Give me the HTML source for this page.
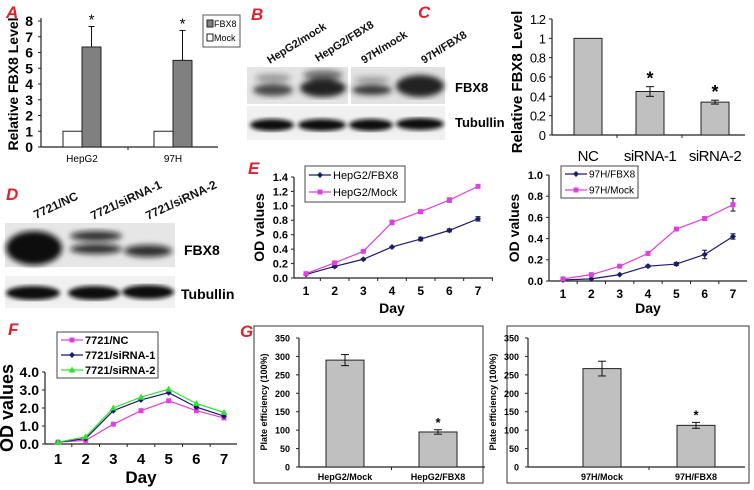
<!DOCTYPE html>
<html><head><meta charset="utf-8"><style>
body{margin:0;background:#fff;}
svg{display:block;font-family:"Liberation Sans",Arial,sans-serif;}
.pl{fill:#e0202a;font-weight:bold;font-style:italic;font-size:17px;}
</style></head><body>
<svg id="fig" width="754" height="490" viewBox="0 0 754 490">
<defs>
<filter id="blur3"><feGaussianBlur stdDeviation="3"/></filter>
<filter id="blur2"><feGaussianBlur stdDeviation="2"/></filter>
</defs>
<text class="pl" x="6" y="18">A</text>
<text class="pl" x="251" y="20">B</text>
<text class="pl" x="418" y="18">C</text>
<text class="pl" x="6" y="200">D</text>
<text class="pl" x="248" y="174">E</text>
<text class="pl" x="8" y="335">F</text>
<text class="pl" x="240" y="337">G</text>

<g>
<rect x="247" y="67" width="101" height="37" fill="#e4e4e4"/>
<rect x="351" y="67" width="94" height="37" fill="#e2e2e2"/>
<rect x="247" y="106" width="198" height="34" fill="#f0f0f0"/>
<g filter="url(#blur3)" fill="#222">
<ellipse cx="273" cy="90" rx="20" ry="6" opacity="0.8"/>
<ellipse cx="273" cy="78" rx="18" ry="4" opacity="0.4"/>
<ellipse cx="323" cy="88" rx="23" ry="9"/>
<ellipse cx="323" cy="75" rx="20" ry="5" opacity="0.6"/>
<ellipse cx="372" cy="90" rx="20" ry="5" opacity="0.9"/>
<ellipse cx="372" cy="80" rx="18" ry="3" opacity="0.4"/>
<ellipse cx="420" cy="86" rx="24" ry="11"/>
</g>
<g filter="url(#blur2)" fill="#111">
<ellipse cx="272" cy="125" rx="22" ry="6"/>
<ellipse cx="322" cy="125" rx="24" ry="6"/>
<ellipse cx="371" cy="125" rx="22" ry="6"/>
<ellipse cx="420" cy="124" rx="24" ry="6"/>
</g>
<g font-size="11" font-weight="bold" fill="#111">
<text transform="translate(270,64) rotate(-32)">HepG2/mock</text>
<text transform="translate(318,62) rotate(-32)">HepG2/FBX8</text>
<text transform="translate(364,64) rotate(-32)">97H/mock</text>
<text transform="translate(424,64) rotate(-32)">97H/FBX8</text>
</g>
<text x="455" y="92" font-size="13" font-weight="bold">FBX8</text>
<text x="455" y="127" font-size="13" font-weight="bold">Tubullin</text>
</g>

<g>
<rect x="5" y="223" width="170" height="44" fill="#e6e6e6"/>
<rect x="5" y="276" width="170" height="32" fill="#f0f0f0"/>
<g filter="url(#blur3)" fill="#111">
<ellipse cx="34" cy="248" rx="28" ry="17"/>
<ellipse cx="96" cy="236" rx="26" ry="5" opacity="0.85"/>
<ellipse cx="96" cy="249" rx="26" ry="5" opacity="0.85"/>
<ellipse cx="148" cy="251" rx="24" ry="6" opacity="0.85"/>
</g>
<g filter="url(#blur2)" fill="#111">
<ellipse cx="33" cy="293" rx="27" ry="7"/>
<ellipse cx="94" cy="293" rx="26" ry="7"/>
<ellipse cx="148" cy="292" rx="26" ry="7"/>
</g>
<g font-size="12" font-weight="bold" fill="#111">
<text transform="translate(36,219) rotate(-25)">7721/NC</text>
<text transform="translate(93,220) rotate(-25)">7721/siRNA-1</text>
<text transform="translate(148,220) rotate(-25)">7721/siRNA-2</text>
</g>
<text x="184" y="255" font-size="14" font-weight="bold">FBX8</text>
<text x="181" y="299" font-size="14" font-weight="bold">Tubullin</text>
</g>

<g id="charts"></g>
</svg>
<script>
// Panel A
const aCats=["HepG2","97H"];
const aMock=[1,1];
const aFbx=[6.35,5.5];
const aFbxErr=[1.3,1.9];
const aTicks=[0,1,2,3,4,5,6,7,8];
// Panel C
const cCats=["NC","siRNA-1","siRNA-2"];
const cVals=[1,0.45,0.34];
const cErr=[0,0.05,0.02];
const cTicks=["0","0.2","0.4","0.6","0.8","1","1.2"];
// Panel E
const days=[1,2,3,4,5,6,7];
const eHepFbx=[0.05,0.16,0.26,0.43,0.54,0.66,0.82];
const eHepMock=[0.06,0.21,0.37,0.77,0.92,1.08,1.27];
const eHepTicks=["0.0","0.2","0.4","0.6","0.8","1.0","1.2","1.4"];
const e97Fbx=[0.01,0.02,0.06,0.14,0.16,0.25,0.42];
const e97Mock=[0.02,0.06,0.14,0.26,0.49,0.59,0.72];
const e97Ticks=["0.0","0.2","0.4","0.6","0.8","1.0"];
// Panel F
const fNC=[0.1,0.2,1.1,1.85,2.4,1.85,1.45];
const fSi1=[0.1,0.3,1.85,2.45,2.85,2.05,1.55];
const fSi2=[0.1,0.4,2.0,2.6,3.05,2.25,1.75];
const fTicks=["0.0","1.0","2.0","3.0","4.0"];
// Panel G
const g1Cats=["HepG2/Mock","HepG2/FBX8"];
const g1Vals=[290,95];
const g1Err=[15,6];
const g2Cats=["97H/Mock","97H/FBX8"];
const g2Vals=[267,113];
const g2Err=[20,8];
const gTicks=[0,50,100,150,200,250,300,350];

const NS="http://www.w3.org/2000/svg";
const root=document.getElementById('charts');
function el(tag,attrs,parent,txt){const e=document.createElementNS(NS,tag);for(const k in attrs)e.setAttribute(k,attrs[k]);if(txt!==undefined)e.textContent=txt;(parent||root).appendChild(e);return e;}
function lin(d0,d1,r0,r1){return v=>r0+(v-d0)/(d1-d0)*(r1-r0);}
function axes(g,x0,x1,y0,y1){
  el('line',{x1:x0,y1:y0,x2:x0,y2:y1,stroke:'#222','stroke-width':1.2},g);
  el('line',{x1:x0,y1:y0,x2:x1,y2:y0,stroke:'#222','stroke-width':1.2},g);
}
function errbar(g,x,yTop,yBot,w){
  el('line',{x1:x,y1:yTop,x2:x,y2:yBot,stroke:'#111','stroke-width':1},g);
  el('line',{x1:x-w,y1:yTop,x2:x+w,y2:yTop,stroke:'#111','stroke-width':1},g);
  el('line',{x1:x-w,y1:yBot,x2:x+w,y2:yBot,stroke:'#111','stroke-width':1},g);
}

// ---- Panel A
(function(){
  const g=el('g',{});
  
  
  const y=lin(0,8,147,21), x0=41,x1=218;
  axes(g,x0,x1,147,18);
  aTicks.forEach(t=>{el('line',{x1:x0-3,x2:x0,y1:y(t),y2:y(t),stroke:'#222'},g);
    const tt=el('text',{x:x0-8,y:y(t)+5,'text-anchor':'end','font-size':14,'font-weight':'bold'},g,t);
    });
  const centers=[82,173];
  el('line',{x1:128,x2:128,y1:147,y2:150,stroke:'#222'},g);
  aCats.forEach((c,i)=>{
    const cx=centers[i];
    const m=el('rect',{x:cx-19,y:y(aMock[i]),width:19,height:147-y(aMock[i]),fill:'#fff',stroke:'#222'},g);
    
    errbar(g,cx+9.5,y(aFbx[i]+aFbxErr[i]),y(aFbx[i]),3);
    const f=el('rect',{x:cx,y:y(aFbx[i]),width:19,height:147-y(aFbx[i]),fill:'#808080',stroke:'#222'},g);
    
    el('text',{x:cx+9.5,y:y(aFbx[i]+aFbxErr[i])-2,'text-anchor':'middle','font-size':15},g,'*');
    const l=el('text',{x:cx,y:162,'text-anchor':'middle','font-size':10},g,c);
    
  });
  const yt=el('text',{transform:'translate(18,84) rotate(-90)','text-anchor':'middle','font-size':14,'font-weight':'bold'},g,'Relative FBX8 Level');
  
  const lg=el('g',{},g);
  
  el('rect',{x:203,y:15,width:37,height:32,fill:'#fff',stroke:'#555'},lg);
  el('rect',{x:207,y:20,width:6,height:7,fill:'#808080',stroke:'#222'},lg);
  el('text',{x:214,y:27,'font-size':9},lg,'FBX8');
  el('rect',{x:207,y:34,width:6,height:7,fill:'#fff',stroke:'#222'},lg);
  el('text',{x:214,y:41,'font-size':9},lg,'Mock');
})();

// ---- Panel C
(function(){
  const g=el('g',{});
  
  
  const y=lin(0,1.2,135,19), x0=552,x1=745;
  axes(g,x0,x1,135,19);
  cTicks.forEach(t=>{const v=parseFloat(t);el('line',{x1:x0-3,x2:x0,y1:y(v),y2:y(v),stroke:'#222'},g);
    const tt=el('text',{x:x0-7,y:y(v)+5,'text-anchor':'end','font-size':13,'letter-spacing':'-1'},g,t);
    });
  [617,682].forEach(t=>el('line',{x1:t,x2:t,y1:135,y2:138,stroke:'#222'},g));
  const centers=[588,650,715];
  cCats.forEach((c,i)=>{
    const cx=centers[i];
    const b=el('rect',{x:cx-14,y:y(cVals[i]),width:28,height:135-y(cVals[i]),fill:'#c0c0c0',stroke:'#222'},g);
    
    if(cErr[i]>0){errbar(g,cx,y(cVals[i]+cErr[i]),y(cVals[i]-cErr[i]),4);
      el('text',{x:cx,y:y(cVals[i]+cErr[i])-2,'text-anchor':'middle','font-size':18,'font-weight':'bold'},g,'*');}
    const l=el('text',{x:cx,y:161,'text-anchor':'middle','font-size':15,'letter-spacing':'-0.5'},g,c);
    
  });
  const yt=el('text',{transform:'translate(522,82) rotate(-90)','text-anchor':'middle','font-size':15,'font-weight':'bold'},g,'Relative FBX8 Level');
  
})();

// ---- line charts
function lineChart(o){
  const g=el('g',{});
  
  
  const y=lin(0,o.ymax,o.y0,o.y1), x=lin(1,7,o.d1,o.d7);
  axes(g,o.x0,o.xend,o.y0,o.y1);
  o.ticks.forEach(t=>{const v=parseFloat(t);el('line',{x1:o.x0-3,x2:o.x0,y1:y(v),y2:y(v),stroke:'#222'},g);
    const tt=el('text',{x:o.x0-6,y:y(v)+o.fs*0.35,'text-anchor':'end','font-size':o.fs,'font-weight':'bold'},g,t);
    });
  days.forEach(d=>{const tx=x(d)+(x(2)-x(1))/2; if(o.xend>tx)el('line',{x1:tx,x2:tx,y1:o.y0,y2:o.y0+3,stroke:'#222'},g);
    const tt=el('text',{x:x(d),y:o.y0+o.fs+6,'text-anchor':'middle','font-size':o.fs+1,'font-weight':'bold'},g,d);
    });
  const xt=el('text',{x:(o.d1+o.d7)/2,y:o.dayY,'text-anchor':'middle','font-size':o.fs+3,'font-weight':'bold'},g,'Day');
  
  const yt=el('text',{transform:`translate(${o.ytX},${(o.y0+o.y1)/2}) rotate(-90)`,'text-anchor':'middle','font-size':o.yfs||o.fs+3,'font-weight':'bold'},g,'OD values');
  
  o.series.forEach(s=>{
    const pts=s.vals.map((v,i)=>x(days[i])+','+y(v)).join(' ');
    const pl=el('polyline',{points:pts,fill:'none',stroke:s.color,'stroke-width':1.2},g);
    
    s.vals.forEach((v,i)=>{
      if(s.err){errbar(g,x(days[i]),y(v+s.err[i]),y(v-s.err[i]),2.5);}
      let m;
      if(s.mk==='sq')m=el('rect',{x:x(days[i])-2.5,y:y(v)-2.5,width:5,height:5,fill:s.color},g);
      else if(s.mk==='tri')m=el('polygon',{points:`${x(days[i])},${y(v)-3.5} ${x(days[i])-3.5},${y(v)+2.5} ${x(days[i])+3.5},${y(v)+2.5}`,fill:s.color},g);
      else m=el('polygon',{points:`${x(days[i])},${y(v)-3} ${x(days[i])+3},${y(v)} ${x(days[i])},${y(v)+3} ${x(days[i])-3},${y(v)}`,fill:s.color},g);
      
    });
  });
  const lg=el('g',{},g);
  
  const L=o.legend;
  el('rect',{x:L.x,y:L.y,width:L.w,height:L.h,fill:'#fff',stroke:'#444'},lg);
  o.series.forEach((s,i)=>{
    const ly=L.y+L.pad+i*L.step;
    el('line',{x1:L.x+4,x2:L.x+26,y1:ly,y2:ly,stroke:s.color,'stroke-width':1.2},lg);
    if(s.mk==='sq')el('rect',{x:L.x+12.5,y:ly-2.5,width:5,height:5,fill:s.color},lg);
    else if(s.mk==='tri')el('polygon',{points:`${L.x+15},${ly-3.5} ${L.x+11.5},${ly+2.5} ${L.x+18.5},${ly+2.5}`,fill:s.color},lg);
    else el('polygon',{points:`${L.x+15},${ly-3} ${L.x+18},${ly} ${L.x+15},${ly+3} ${L.x+12},${ly}`,fill:s.color},lg);
    el('text',{x:L.x+28,y:ly+L.fs*0.35,'font-size':L.fs,'font-weight':L.bold?'bold':'normal'},lg,s.label);
  });
}
const NAVY='#1a1a6e', MAG='#e040e0', GRN='#30e030';
lineChart({name:'chart-e-hepg2',x0:294,xend:493,y0:278,y1:177,ymax:1.4,d1:306,d7:478,ticks:eHepTicks,fs:11,dayY:313,ytX:264,
  legend:{x:305,y:166,w:100,h:36,pad:9,step:17,fs:11,bold:false},
  series:[{key:'hepg2-fbx8',label:'HepG2/FBX8',vals:eHepFbx,color:NAVY,mk:'dia',err:[0.005,0.015,0.01,0.01,0.025,0.02,0.03]},
          {key:'hepg2-mock',label:'HepG2/Mock',vals:eHepMock,color:MAG,mk:'sq',err:[0.005,0.01,0.01,0.03,0.02,0.03,0.02]}]});
lineChart({name:'chart-e-97h',x0:549,xend:747,y0:281,y1:175,ymax:1.0,d1:563,d7:733,ticks:e97Ticks,fs:11,dayY:313,ytX:519,
  legend:{x:561,y:166,w:77,h:32,pad:8,step:16,fs:10,bold:false},
  series:[{key:'97h-fbx8',label:'97H/FBX8',vals:e97Fbx,color:NAVY,mk:'dia',err:[0,0,0,0.01,0.015,0.04,0.025]},
          {key:'97h-mock',label:'97H/Mock',vals:e97Mock,color:MAG,mk:'sq',err:[0,0,0,0.01,0.01,0.01,0.06]}]});
lineChart({name:'chart-f',x0:45,xend:237,y0:444,y1:372,ymax:4.0,d1:58,d7:224,ticks:fTicks,fs:14,yfs:18,dayY:483,ytX:13,
  legend:{x:57,y:332,w:101,h:46,pad:8,step:15,fs:11,bold:true},
  series:[{key:'7721-nc',label:'7721/NC',vals:fNC,color:MAG,mk:'sq'},
          {key:'7721-sirna1',label:'7721/siRNA-1',vals:fSi1,color:NAVY,mk:'dia'},
          {key:'7721-sirna2',label:'7721/siRNA-2',vals:fSi2,color:GRN,mk:'tri'}]});

// ---- Panel G
function barG(o){
  const g=el('g',{});
  
  
  el('rect',{x:o.bx,y:326,width:o.bw,height:157,fill:'none',stroke:'#333'},g);
  const y=lin(0,350,467,338);
  axes(g,o.x0,o.x1,467,338);
  gTicks.forEach(t=>{el('line',{x1:o.x0-3,x2:o.x0,y1:y(t),y2:y(t),stroke:'#222'},g);
    const tt=el('text',{x:o.x0-9,y:y(t)+3.5,'text-anchor':'end','font-size':9,'font-weight':'bold'},g,t);
    });
  const mid=(o.c[0]+o.c[1])/2;
  el('line',{x1:mid,x2:mid,y1:467,y2:470,stroke:'#222'},g);
  o.cats.forEach((c,i)=>{
    const cx=o.c[i];
    const b=el('rect',{x:cx-19,y:y(o.vals[i]),width:38,height:467-y(o.vals[i]),fill:'#c0c0c0',stroke:'#222'},g);
    
    errbar(g,cx,y(o.vals[i]+o.err[i]),y(o.vals[i]-o.err[i]),4);
    if(i===1)el('text',{x:cx,y:y(o.vals[i]+o.err[i])-3,'text-anchor':'middle','font-size':13,'font-weight':'bold'},g,'*');
    const l=el('text',{x:cx,y:480,'text-anchor':'middle','font-size':9,'font-weight':'bold'},g,c);
    
  });
  const yt=el('text',{transform:`translate(${o.x0-32},402) rotate(-90)`,'text-anchor':'middle','font-size':9,'font-weight':'bold'},g,'Plate  efficiency (100%)');
  
}
barG({name:'chart-g-hepg2',bx:254,bw:229,x0:299,x1:485,c:[345,438],cats:g1Cats,vals:g1Vals,err:g1Err});
barG({name:'chart-g-97h',bx:507,bw:242,x0:528,x1:745,c:[602,696],cats:g2Cats,vals:g2Vals,err:g2Err});
</script>
</body></html>
